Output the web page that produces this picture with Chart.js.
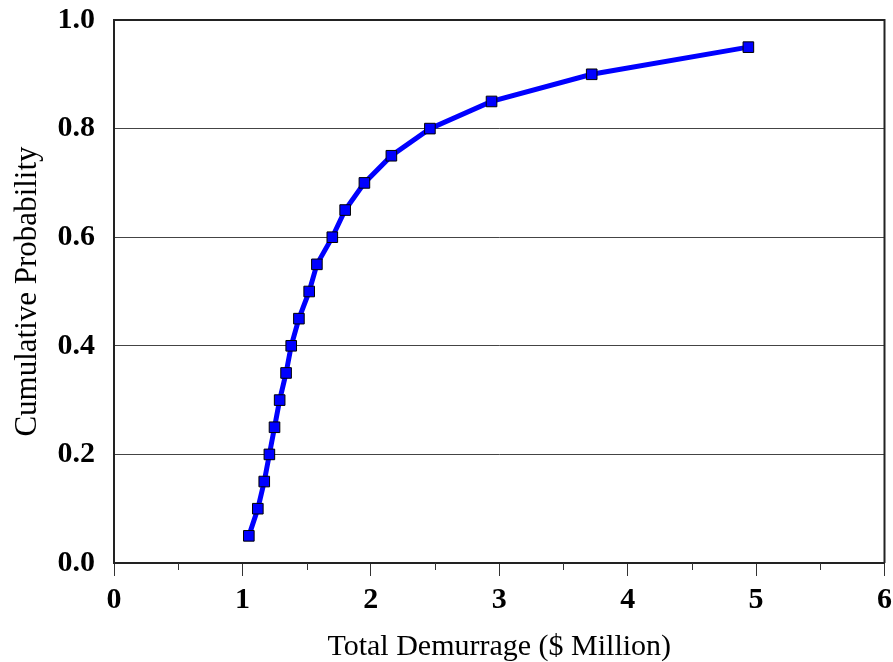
<!DOCTYPE html>
<html>
<head>
<meta charset="utf-8">
<script src="https://cdn.jsdelivr.net/npm/chart.js@4/dist/chart.umd.min.js"></script>
<style>
  html, body { margin: 0; padding: 0; background: #fff; }
  #wrap { width: 893px; height: 662px; }
</style>
</head>
<body>
<div id="wrap"><canvas id="cdf"></canvas></div>
<script>
// values
const demurrage = [1.05, 1.12, 1.17, 1.21, 1.25, 1.29, 1.34, 1.38, 1.44, 1.52,
                   1.58, 1.70, 1.80, 1.95, 2.16, 2.46, 2.94, 3.72, 4.94];
const probability = [0.05, 0.10, 0.15, 0.20, 0.25, 0.30, 0.35, 0.40, 0.45, 0.50,
                     0.55, 0.60, 0.65, 0.70, 0.75, 0.80, 0.85, 0.90, 0.95];
const xTitle = 'Total Demurrage ($ Million)';
const yTitle = 'Cumulative Probability';
const minorTicks = [0.5, 1.5, 2.5, 3.5, 4.5, 5.5];

const blue = '#0000ff';
const serif = "'Liberation Serif', 'Times New Roman', serif";

// box round the plot area plus the short minor ticks under the x axis
const frame = {
  id: 'frame',
  afterDraw(chart) {
    const ctx = chart.ctx;
    const a = chart.chartArea;
    const xs = chart.scales.x;
    ctx.save();
    ctx.strokeStyle = '#222';
    ctx.lineWidth = 2;
    ctx.beginPath();
    ctx.moveTo(a.left, a.top);
    ctx.lineTo(a.right, a.top);
    ctx.lineTo(a.right, a.bottom);
    ctx.stroke();
    ctx.lineWidth = 1;
    ctx.strokeStyle = '#333';
    minorTicks.forEach(v => {
      const px = Math.round(xs.getPixelForValue(v)) + 0.5;
      ctx.beginPath();
      ctx.moveTo(px, a.bottom);
      ctx.lineTo(px, a.bottom + 7);
      ctx.stroke();
    });
    ctx.restore();
  }
};

// labels may hang outside the plot area, like the original
function noOverflow(scale) {
  scale.paddingTop = 0;
  scale.paddingBottom = 0;
  scale.paddingLeft = 0;
  scale.paddingRight = 0;
}

new Chart(document.getElementById('cdf'), {
  type: 'line',
  data: {
    datasets: [{
      data: demurrage.map((x, i) => ({ x: x, y: probability[i] })),
      borderColor: blue,
      borderWidth: 5,
      backgroundColor: blue,
      pointStyle: 'rect',
      pointRadius: 7.5,
      pointBorderColor: '#000',
      pointBorderWidth: 1,
      pointBackgroundColor: blue,
      tension: 0
    }]
  },
  plugins: [frame],
  options: {
    responsive: true,
    maintainAspectRatio: false,
    animation: false,
    layout: { padding: { top: 20, right: 8, left: 0, bottom: 0 } },
    plugins: {
      legend: { display: false },
      tooltip: { enabled: false }
    },
    scales: {
      x: {
        type: 'linear',
        min: 0,
        max: 6,
        afterFit(scale) { scale.height = 99; noOverflow(scale); },
        ticks: {
          stepSize: 1,
          padding: 6,
          color: '#000',
          font: { family: serif, size: 30, weight: 'bold' }
        },
        grid: {
          drawOnChartArea: false,
          drawTicks: true,
          tickLength: 13,
          tickColor: '#333'
        },
        border: { display: true, color: '#222', width: 2 },
        title: {
          display: true,
          text: xTitle,
          color: '#000',
          padding: 0,
          font: { family: serif, size: 30, lineHeight: 1 }
        }
      },
      y: {
        min: 0,
        max: 1,
        afterFit(scale) { scale.width = 114; noOverflow(scale); },
        ticks: {
          stepSize: 0.2,
          padding: 19,
          color: '#000',
          font: { family: serif, size: 30, weight: 'bold' },
          callback: v => v.toFixed(1)
        },
        grid: {
          drawTicks: false,
          color: '#444',
          lineWidth: 1
        },
        border: { display: true, color: '#222', width: 2 },
        title: {
          display: true,
          text: yTitle,
          color: '#000',
          padding: { top: 9, bottom: 0 },
          font: { family: serif, size: 31 }
        }
      }
    }
  }
});
</script>
</body>
</html>
